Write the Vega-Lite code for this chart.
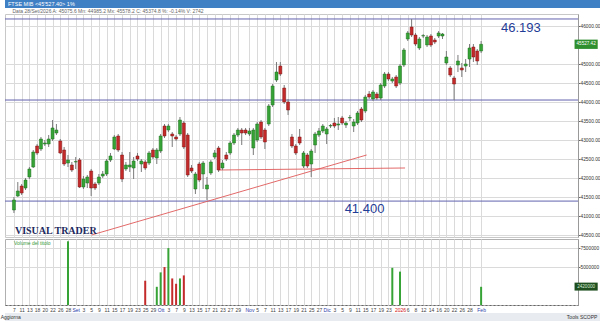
{
"$schema": "https://vega.github.io/schema/vega-lite/v6.json",
"background": "white",
"padding": 0,
"spacing": 0,
"config": {"font": "Liberation Sans", "view": {"stroke": "#c0c0c0"}, "concat": {"spacing": 0}, "axis": {"labelOverlap": false, "labelFlush": false}},
"datasets": {
"candles": [
{"i":0,"o":41166,"h":41508,"l":41087,"c":41429,"v":0},
{"i":1,"o":41534,"h":41902,"l":41508,"c":41666,"v":0},
{"i":2,"o":41797,"h":41850,"l":41560,"c":41613,"v":0},
{"i":3,"o":41745,"h":42008,"l":41692,"c":41955,"v":0},
{"i":4,"o":42034,"h":42297,"l":41981,"c":42245,"v":0},
{"i":5,"o":42297,"h":42745,"l":42271,"c":42692,"v":0},
{"i":6,"o":42850,"h":42902,"l":42613,"c":42666,"v":0},
{"i":7,"o":42771,"h":43087,"l":42718,"c":43034,"v":0},
{"i":8,"o":42902,"h":43008,"l":42850,"c":42929,"v":0},
{"i":9,"o":42902,"h":43139,"l":42824,"c":43034,"v":0},
{"i":10,"o":43034,"h":43534,"l":42981,"c":43324,"v":0},
{"i":11,"o":43192,"h":43429,"l":43139,"c":43271,"v":0},
{"i":12,"o":42981,"h":43034,"l":42639,"c":42666,"v":0},
{"i":13,"o":42745,"h":42824,"l":42324,"c":42376,"v":0},
{"i":14,"o":42402,"h":42613,"l":42297,"c":42481,"v":8400000},
{"i":15,"o":42350,"h":42429,"l":42166,"c":42218,"v":0},
{"i":16,"o":42429,"h":42560,"l":42245,"c":42440,"v":0},
{"i":17,"o":42481,"h":42534,"l":41745,"c":41771,"v":0},
{"i":18,"o":41771,"h":42060,"l":41718,"c":41981,"v":0},
{"i":19,"o":41876,"h":42087,"l":41745,"c":42034,"v":0},
{"i":20,"o":42192,"h":42245,"l":41534,"c":41745,"v":0},
{"i":21,"o":41850,"h":41902,"l":41692,"c":41745,"v":0},
{"i":22,"o":41876,"h":42113,"l":41824,"c":42034,"v":0},
{"i":23,"o":42060,"h":42192,"l":42008,"c":42113,"v":0},
{"i":24,"o":42113,"h":42508,"l":42060,"c":42455,"v":0},
{"i":25,"o":42481,"h":42666,"l":42429,"c":42587,"v":0},
{"i":26,"o":42771,"h":43139,"l":42745,"c":43087,"v":0},
{"i":27,"o":43113,"h":43166,"l":42692,"c":42745,"v":0},
{"i":28,"o":42613,"h":42692,"l":41902,"c":41981,"v":0},
{"i":29,"o":42245,"h":42429,"l":42192,"c":42350,"v":0},
{"i":30,"o":42297,"h":42692,"l":42166,"c":42350,"v":0},
{"i":31,"o":42271,"h":42560,"l":41981,"c":42455,"v":0},
{"i":32,"o":42587,"h":42666,"l":42455,"c":42508,"v":0},
{"i":33,"o":42376,"h":42508,"l":42166,"c":42455,"v":0},
{"i":34,"o":42429,"h":42481,"l":42218,"c":42271,"v":3200000},
{"i":35,"o":42402,"h":42718,"l":42350,"c":42666,"v":0},
{"i":36,"o":42745,"h":42797,"l":42508,"c":42560,"v":0},
{"i":37,"o":42534,"h":42797,"l":42376,"c":42745,"v":2400000},
{"i":38,"o":42718,"h":43166,"l":42666,"c":43113,"v":4300000},
{"i":39,"o":43376,"h":43429,"l":43060,"c":43113,"v":5000000},
{"i":40,"o":43271,"h":43429,"l":43218,"c":43376,"v":7500000},
{"i":41,"o":43166,"h":43218,"l":42824,"c":43113,"v":3500000},
{"i":42,"o":43087,"h":43139,"l":42981,"c":43034,"v":2800000},
{"i":43,"o":43166,"h":43613,"l":43113,"c":43534,"v":3500000},
{"i":44,"o":43455,"h":43508,"l":42771,"c":42824,"v":3900000},
{"i":45,"o":43139,"h":43192,"l":42034,"c":42087,"v":0},
{"i":46,"o":42271,"h":42350,"l":42139,"c":42192,"v":0},
{"i":47,"o":41718,"h":42166,"l":41587,"c":42113,"v":0},
{"i":48,"o":42376,"h":42429,"l":41902,"c":41955,"v":0},
{"i":49,"o":42113,"h":42455,"l":41718,"c":42402,"v":0},
{"i":50,"o":41718,"h":42034,"l":41429,"c":41824,"v":0},
{"i":51,"o":42139,"h":42481,"l":42087,"c":42429,"v":0},
{"i":52,"o":42560,"h":42745,"l":42508,"c":42666,"v":0},
{"i":53,"o":42797,"h":42850,"l":42166,"c":42218,"v":0},
{"i":54,"o":42271,"h":42481,"l":42218,"c":42402,"v":0},
{"i":55,"o":42613,"h":42692,"l":42455,"c":42508,"v":0},
{"i":56,"o":42666,"h":42981,"l":42613,"c":42929,"v":0},
{"i":57,"o":42929,"h":43192,"l":42876,"c":43139,"v":0},
{"i":58,"o":43139,"h":43324,"l":43087,"c":43271,"v":0},
{"i":59,"o":43271,"h":43324,"l":42876,"c":43192,"v":0},
{"i":60,"o":43271,"h":43324,"l":43139,"c":43192,"v":0},
{"i":61,"o":43166,"h":43324,"l":43113,"c":43245,"v":0},
{"i":62,"o":42797,"h":43324,"l":42613,"c":43271,"v":0},
{"i":63,"o":43008,"h":43481,"l":42955,"c":43429,"v":0},
{"i":64,"o":43481,"h":43534,"l":43034,"c":43087,"v":0},
{"i":65,"o":43271,"h":43324,"l":42771,"c":42955,"v":0},
{"i":66,"o":43429,"h":43955,"l":43376,"c":43903,"v":0},
{"i":67,"o":43929,"h":44481,"l":43876,"c":44429,"v":0},
{"i":68,"o":44587,"h":45060,"l":44534,"c":44797,"v":0},
{"i":69,"o":44955,"h":45060,"l":44692,"c":44744,"v":0},
{"i":70,"o":44376,"h":44455,"l":43955,"c":44008,"v":0},
{"i":71,"o":44008,"h":44087,"l":43666,"c":43797,"v":0},
{"i":72,"o":43087,"h":43166,"l":42797,"c":42850,"v":0},
{"i":73,"o":42850,"h":42902,"l":42613,"c":42666,"v":0},
{"i":74,"o":43087,"h":43297,"l":42876,"c":42929,"v":0},
{"i":75,"o":42324,"h":42718,"l":42271,"c":42666,"v":0},
{"i":76,"o":42613,"h":42666,"l":42271,"c":42324,"v":0},
{"i":77,"o":42376,"h":42771,"l":42034,"c":42718,"v":0},
{"i":78,"o":42876,"h":43218,"l":42666,"c":43166,"v":0},
{"i":79,"o":43139,"h":43324,"l":43087,"c":43245,"v":0},
{"i":80,"o":43245,"h":43429,"l":43192,"c":43376,"v":0},
{"i":81,"o":43166,"h":43350,"l":42902,"c":43297,"v":0},
{"i":82,"o":43376,"h":43429,"l":43324,"c":43390,"v":0},
{"i":83,"o":43455,"h":43587,"l":43324,"c":43376,"v":0},
{"i":84,"o":43403,"h":43613,"l":43271,"c":43429,"v":0},
{"i":85,"o":43587,"h":43640,"l":43403,"c":43455,"v":0},
{"i":86,"o":43403,"h":43508,"l":43324,"c":43455,"v":0},
{"i":87,"o":43587,"h":43666,"l":43508,"c":43600,"v":0},
{"i":88,"o":43376,"h":43560,"l":43218,"c":43481,"v":0},
{"i":89,"o":43455,"h":43771,"l":43403,"c":43718,"v":0},
{"i":90,"o":43824,"h":43876,"l":43481,"c":43534,"v":0},
{"i":91,"o":43771,"h":44192,"l":43718,"c":44139,"v":0},
{"i":92,"o":44218,"h":44297,"l":44087,"c":44139,"v":0},
{"i":93,"o":44087,"h":44323,"l":44034,"c":44271,"v":0},
{"i":94,"o":44218,"h":44271,"l":44060,"c":44113,"v":0},
{"i":95,"o":44113,"h":44508,"l":44060,"c":44455,"v":0},
{"i":96,"o":44429,"h":44797,"l":44376,"c":44744,"v":0},
{"i":97,"o":44744,"h":44797,"l":44560,"c":44613,"v":0},
{"i":98,"o":44560,"h":44666,"l":44508,"c":44613,"v":4900000},
{"i":99,"o":44666,"h":44718,"l":44376,"c":44429,"v":0},
{"i":100,"o":44508,"h":45008,"l":44455,"c":44955,"v":4400000},
{"i":101,"o":44982,"h":45429,"l":44929,"c":45376,"v":0},
{"i":102,"o":45666,"h":45876,"l":45613,"c":45824,"v":0},
{"i":103,"o":45982,"h":46192,"l":45718,"c":45771,"v":0},
{"i":104,"o":45771,"h":45824,"l":45481,"c":45534,"v":0},
{"i":105,"o":45429,"h":45718,"l":45376,"c":45666,"v":0},
{"i":106,"o":45745,"h":45797,"l":45692,"c":45755,"v":0},
{"i":107,"o":45508,"h":45771,"l":45455,"c":45718,"v":0},
{"i":108,"o":45745,"h":45797,"l":45455,"c":45508,"v":0},
{"i":109,"o":45639,"h":45692,"l":45534,"c":45587,"v":0},
{"i":110,"o":45745,"h":45876,"l":45692,"c":45824,"v":0},
{"i":111,"o":45745,"h":45824,"l":45666,"c":45797,"v":0},
{"i":112,"o":45034,"h":45350,"l":44982,"c":45192,"v":0},
{"i":113,"o":44903,"h":44955,"l":44666,"c":44718,"v":0},
{"i":114,"o":44639,"h":44692,"l":44060,"c":44481,"v":0},
{"i":115,"o":44982,"h":45245,"l":44797,"c":45087,"v":0},
{"i":116,"o":44903,"h":45034,"l":44666,"c":44850,"v":0},
{"i":117,"o":44955,"h":45139,"l":44797,"c":45008,"v":0},
{"i":118,"o":45139,"h":45534,"l":44929,"c":45429,"v":0},
{"i":119,"o":45455,"h":45534,"l":45060,"c":45192,"v":0},
{"i":120,"o":45350,"h":45403,"l":44982,"c":45087,"v":0},
{"i":121,"o":45350,"h":45613,"l":45297,"c":45527,"v":2400000}
],
"levels": [{"p": 46193}, {"p": 44060}, {"p": 41400}],
"trends": [{"i": 20.1, "p": 40508, "i2": 91.35, "p2": 42613}, {"i": 53.2, "p": 42218, "i2": 101.3, "p2": 42271}],
"labels": [{"t": "46.193", "i": 131.3, "p": 45955}, {"t": "41.400", "i": 90.8, "p": 41205}],
"brand": [{"t": "VISUAL TRADER", "i": 0.25, "p": 40534}],
"lastPrice": [{"i": 145.2, "i2": 151.2, "im": 148.2, "lo": 45405, "hi": 45650, "p": 45527, "t": "45527.42"}],
"lastVol": [{"i": 145.2, "i2": 151.2, "im": 148.2, "lo": 1900000, "hi": 2950000, "v": 2420000, "t": "2420000"}]
},
"vconcat": [
{
"width": 600, "height": 8,
"view": {"fill": "#3f7fc4", "stroke": null},
"data": {"values": [{"t": "FTSE MIB <45'527.40> 1%"}]},
"mark": {"type": "text", "color": "white", "fontSize": 5.5, "align": "left", "baseline": "middle", "dx": 3},
"encoding": {
"x": {"datum": 0, "type": "quantitative", "scale": {"domain": [0, 1]}, "axis": null},
"y": {"datum": 0.5, "type": "quantitative", "scale": {"domain": [0, 1]}, "axis": null},
"text": {"field": "t"}
}
},
{
"width": 573, "height": 223,
"title": {"text": "Data 28/Set/2026    A: 45075.6    Mn: 44985.2    Mx: 45578.2    C: 45374.8    %: -0.14%    V: 2742", "anchor": "start", "dx": 8, "offset": 0, "fontSize": 5, "fontWeight": "normal", "color": "#666"},
"view": {"stroke": "#c8c8c8"},
"layer": [
{
"data": {"name": "levels"},
"mark": {"type": "rule", "color": "#6262ae", "strokeWidth": 1},
"encoding": {
"y": {"field": "p", "type": "quantitative", "scale": {"domain": [40455, 46324], "nice": false, "zero": false},
"axis": {"orient": "right", "title": null, "values": [40500,41000,41500,42000,42500,43000,43500,44000,44500,45000,46000], "tickCount": 200, "format": ".2f", "labelFontSize": 4.8, "labelColor": "#333", "labelPadding": 0, "tickSize": 2, "tickColor": "#666", "domainColor": "#999", "grid": true, "gridColor": "#dadada", "labelOverlap": false}}
}
},
{
"data": {"name": "trends"},
"mark": {"type": "rule", "color": "#e05858", "strokeWidth": 0.9},
"encoding": {
"x": {"field": "i", "type": "quantitative", "scale": {"domain": [-1.02, 144.8], "nice": false, "zero": false},
"axis": {"title": null, "values": [0,2,4,6,8,10,12,14,16,18,20,22,24,26,28,30,32,34,36,38,40,42,44,46,48,50,52,54,56,58,61,63,65,67,69,71,73,75,77,79,81,83,85,87,89,91,93,95,97,100,102,104,106,108,110,112,114,116,118,121], "tickCount": 200, "labels": false, "ticks": false, "domain": false, "grid": true, "gridColor": "#dadada"}},
"x2": {"field": "i2"},
"y": {"field": "p", "type": "quantitative", "title": null},
"y2": {"field": "p2"}
}
},
{
"data": {"name": "candles"},
"mark": {"type": "rule", "color": "#7a7a7a", "strokeWidth": 1},
"encoding": {
"x": {"field": "i", "type": "quantitative", "title": null},
"y": {"field": "l", "type": "quantitative", "title": null},
"y2": {"field": "h"}
}
},
{
"data": {"name": "candles"},
"mark": {"type": "bar", "size": 3, "strokeWidth": 0.5},
"encoding": {
"x": {"field": "i", "type": "quantitative", "title": null},
"y": {"field": "o", "type": "quantitative", "title": null},
"y2": {"field": "c"},
"color": {"condition": {"test": "datum.c >= datum.o", "value": "#36a336"}, "value": "#c42a2a"},
"stroke": {"condition": {"test": "datum.c >= datum.o", "value": "#1f6e1f"}, "value": "#7c1717"}
}
},
{
"data": {"name": "labels"},
"mark": {"type": "text", "fontSize": 13, "color": "#1f3c96", "baseline": "middle", "align": "center"},
"encoding": {
"x": {"field": "i", "type": "quantitative", "title": null},
"y": {"field": "p", "type": "quantitative", "title": null},
"text": {"field": "t"}
}
},
{
"data": {"name": "brand"},
"mark": {"type": "text", "fontSize": 10, "font": "Liberation Serif", "fontWeight": "bold", "color": "#1c2a5e", "baseline": "alphabetic", "align": "left"},
"encoding": {
"x": {"field": "i", "type": "quantitative", "title": null},
"y": {"field": "p", "type": "quantitative", "title": null},
"text": {"field": "t"}
}
},
{
"data": {"name": "lastPrice"},
"mark": {"type": "rect", "color": "#2f8f2f", "clip": false},
"encoding": {
"x": {"field": "i", "type": "quantitative", "title": null},
"x2": {"field": "i2"},
"y": {"field": "lo", "type": "quantitative", "title": null},
"y2": {"field": "hi"}
}
},
{
"data": {"name": "lastPrice"},
"mark": {"type": "text", "color": "white", "fontSize": 4.6, "align": "center", "baseline": "middle"},
"encoding": {
"x": {"field": "im", "type": "quantitative", "title": null},
"y": {"field": "p", "type": "quantitative", "title": null},
"text": {"field": "t"}
}
}
]
},
{
"width": 573, "height": 66,
"view": {"stroke": "#b0b0b0"},
"layer": [
{
"data": {"name": "candles"},
"transform": [{"filter": "datum.v > 0"}],
"mark": {"type": "bar", "size": 2},
"encoding": {
"x": {"field": "i", "type": "quantitative", "scale": {"domain": [-1.02, 144.8], "nice": false, "zero": false},
"axis": {"title": null, "values": [0,2,4,6,8,10,12,14,16,18,20,22,24,26,28,30,32,34,36,38,40,42,44,46,48,50,52,54,56,58,61,63,65,67,69,71,73,75,77,79,81,83,85,87,89,91,93,95,97,100,102,104,106,108,110,112,114,116,118,121], "tickCount": 200,
"labelExpr": "['7','8','11','12','13','14','18','19','20','21','22','25','26','27','28','29','Set','2','3','4','5','8','9','10','11','12','15','16','17','18','19','22','23','24','25','26','29','30','Ott','2','3','6','7','8','9','10','13','14','15','16','17','20','21','22','23','24','27','28','29','30','31','Nov','4','5','6','7','10','11','12','13','14','17','18','19','20','21','24','25','26','27','28','Dic','2','3','4','5','8','9','10','11','12','15','16','17','18','19','22','23','29','30','2026','5','6','7','8','9','12','13','14','15','16','19','20','21','22','23','26','27','28','29','30','Feb'][datum.value]",
"labelColor": {"expr": "datum.value == 100 ? '#d01010' : ((datum.value == 16 || datum.value == 38 || datum.value == 61 || datum.value == 81 || datum.value == 121) ? '#2a3caa' : '#444')"},
"labelFontSize": 5, "labelPadding": 2, "labelOverlap": false, "ticks": false,
"domain": true, "domainColor": "#666", "domainDash": [2, 2],
"grid": true, "gridColor": "#dadada"}},
"y": {"field": "v", "type": "quantitative", "scale": {"domain": [0, 8700000], "nice": false},
"axis": {"orient": "right", "title": null, "values": [5000000, 7500000], "tickCount": 20, "format": "d", "labelFontSize": 4.8, "labelColor": "#333", "labelPadding": 0, "tickSize": 2, "tickColor": "#666", "domainColor": "#999", "grid": true, "gridColor": "#dadada", "labelOverlap": false}},
"color": {"condition": {"test": "datum.c >= datum.o", "value": "#36a336"}, "value": "#c42a2a"}
}
},
{
"data": {"values": [{"t": "Volume del titolo", "i": 0, "v": 8200000}]},
"mark": {"type": "text", "fontSize": 5, "color": "#3a9a3a", "align": "left", "baseline": "middle"},
"encoding": {
"x": {"field": "i", "type": "quantitative", "title": null},
"y": {"field": "v", "type": "quantitative", "title": null},
"text": {"field": "t"}
}
},
{
"data": {"name": "lastVol"},
"mark": {"type": "rect", "color": "#1f4f1f", "clip": false},
"encoding": {
"x": {"field": "i", "type": "quantitative", "title": null},
"x2": {"field": "i2"},
"y": {"field": "lo", "type": "quantitative", "title": null},
"y2": {"field": "hi"}
}
},
{
"data": {"name": "lastVol"},
"mark": {"type": "text", "color": "#d8f0d8", "fontSize": 4.6, "align": "center", "baseline": "middle"},
"encoding": {
"x": {"field": "im", "type": "quantitative", "title": null},
"y": {"field": "v", "type": "quantitative", "title": null},
"text": {"field": "t"}
}
}
]
},
{
"width": 600, "height": 8,
"view": {"fill": "#e8ebef", "stroke": null},
"data": {"values": [{"t": "Aggiorna", "x": 0}, {"t": "Tools   SCOPP", "x": 1}]},
"mark": {"type": "text", "color": "#333", "fontSize": 5, "baseline": "middle"},
"encoding": {
"x": {"field": "x", "type": "quantitative", "scale": {"domain": [-0.01, 1.04]}, "axis": null},
"y": {"datum": 0.5, "type": "quantitative", "scale": {"domain": [0, 1]}, "axis": null},
"align": {"condition": {"test": "datum.x > 0.5", "value": "right"}, "value": "left"},
"text": {"field": "t"}
}
}
]
}
